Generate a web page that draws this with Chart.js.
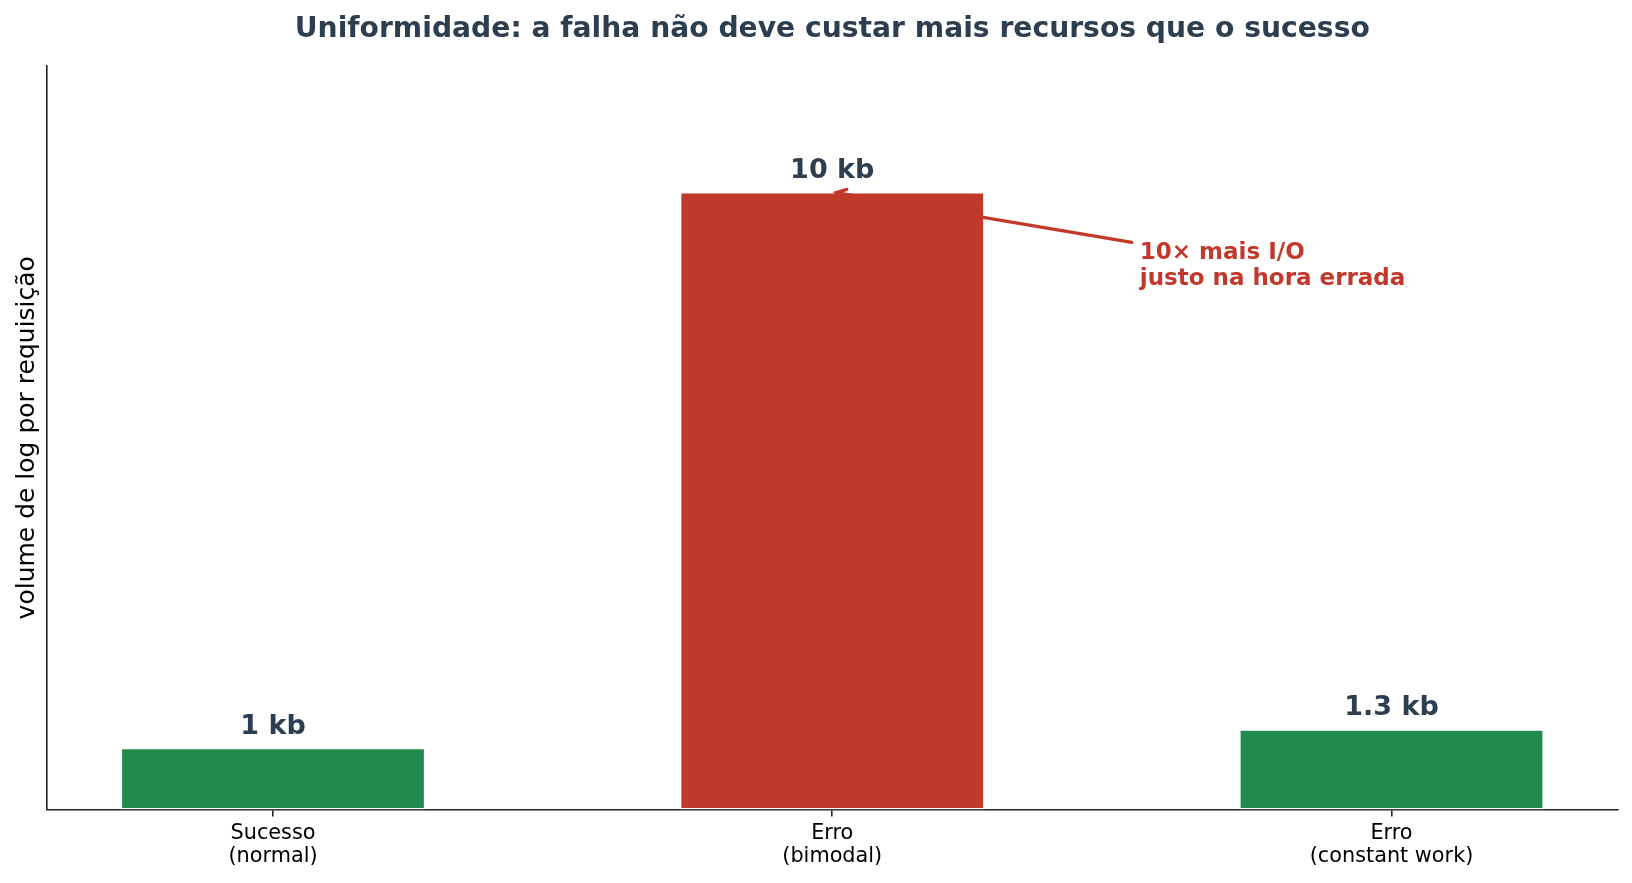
<!DOCTYPE html>
<html>
<head>
<meta charset="utf-8">
<script src="https://cdn.jsdelivr.net/npm/chart.js@4.4.1/dist/chart.umd.min.js"></script>
<style>
  html, body { margin: 0; padding: 0; background: #fff; }
</style>
</head>
<body>
<canvas id="logChart" width="1632" height="883"></canvas>
<script>
// dados
const categories = [['Sucesso', '(normal)'], ['Erro', '(bimodal)'], ['Erro', '(constant work)']];
const logVolume = [1, 10, 1.3];
const valueLabels = ['1 kb', '10 kb', '1.3 kb'];
const barColors = ['#218a4c', '#c0392b', '#218a4c'];
const yRange = [0, 12.04];
const xRange = [-0.405, 2.405];
const chartTitle = 'Uniformidade: a falha não deve custar mais recursos que o sucesso';
const noteLines = ['10× mais I/O', 'justo na hora errada'];
const notePoint = [1, 10];
const noteTextAt = [1.55, 8.8];

const FONT = "'DejaVu Sans', 'Liberation Sans', sans-serif";
const DARK = '#2c3e50';
const RED = '#c0392b';

// título centrado sobre a área do gráfico (como no matplotlib)
const axesTitle = {
	id: 'axesTitle',
	afterDraw(chart) {
		const ctx = chart.ctx;
		const area = chart.chartArea;
		ctx.save();
		ctx.font = 'bold 28.2px ' + FONT;
		ctx.fillStyle = DARK;
		ctx.textAlign = 'center';
		ctx.textBaseline = 'middle';
		ctx.fillText(chartTitle, (area.left + area.right) / 2, area.top - 36);
		ctx.restore();
	}
};

const barValueLabels = {
	id: 'barValueLabels',
	afterDatasetsDraw(chart) {
		const ctx = chart.ctx;
		const meta = chart.getDatasetMeta(0);
		ctx.save();
		ctx.font = 'bold 27px ' + FONT;
		ctx.fillStyle = DARK;
		ctx.textAlign = 'center';
		ctx.textBaseline = 'middle';
		meta.data.forEach(function(bar, i) {
			ctx.fillText(valueLabels[i], bar.x, bar.y - 21);
		});
		ctx.restore();
	}
};

const arrowNote = {
	id: 'arrowNote',
	afterDatasetsDraw(chart) {
		const ctx = chart.ctx;
		const xs = chart.scales.x, ys = chart.scales.y;
		const tx = xs.getPixelForValue(noteTextAt[0]);
		const ty = ys.getPixelForValue(noteTextAt[1]);
		const lineH = 26;
		ctx.save();
		ctx.font = 'bold 23px ' + FONT;
		const w = Math.max.apply(null, noteLines.map(function(l) { return ctx.measureText(l).width; }));
		const cx = tx + w / 2, cy = ty;
		let px = xs.getPixelForValue(notePoint[0]);
		let py = ys.getPixelForValue(notePoint[1]);
		const dx = px - cx, dy = py - cy;
		const len = Math.sqrt(dx * dx + dy * dy);
		// encolhe a ponta um pouco
		px -= dx / len * 4;
		py -= dy / len * 4;
		const startX = tx - 8;
		const t = (startX - cx) / dx;
		const startY = cy + dy * t;

		ctx.strokeStyle = RED;
		ctx.lineWidth = 3.2;
		ctx.lineCap = 'round';
		ctx.beginPath();
		ctx.moveTo(startX, startY);
		ctx.lineTo(px, py);
		ctx.stroke();

		const ang = Math.atan2(py - startY, px - startX);
		const hl = 10, hw = 5;
		ctx.beginPath();
		ctx.moveTo(px - hl * Math.cos(ang) + hw * Math.sin(ang), py - hl * Math.sin(ang) - hw * Math.cos(ang));
		ctx.lineTo(px, py);
		ctx.lineTo(px - hl * Math.cos(ang) - hw * Math.sin(ang), py - hl * Math.sin(ang) + hw * Math.cos(ang));
		ctx.stroke();

		ctx.fillStyle = RED;
		ctx.textAlign = 'left';
		ctx.textBaseline = 'middle';
		noteLines.forEach(function(l, i) {
			ctx.fillText(l, tx, ty + (i - (noteLines.length - 1) / 2) * lineH);
		});
		ctx.restore();
	}
};

new Chart(document.getElementById('logChart').getContext('2d'), {
	type: 'bar',
	data: {
		datasets: [{
			data: logVolume.map(function(v, i) { return { x: i, y: v }; }),
			backgroundColor: barColors,
			borderColor: '#ffffff',
			borderWidth: 1.5,
			borderSkipped: false,
			barPercentage: 0.545,
			categoryPercentage: 1
		}]
	},
	options: {
		responsive: false,
		animation: false,
		devicePixelRatio: 1,
		layout: { padding: { left: 0, right: 14, top: 66, bottom: 0 } },
		plugins: {
			legend: { display: false },
			tooltip: { enabled: false },
			title: { display: false }
		},
		scales: {
			x: {
				type: 'linear',
				min: xRange[0],
				max: xRange[1],
				offset: false,
				afterBuildTicks: function(scale) {
					scale.ticks = categories.map(function(_, i) { return { value: i }; });
				},
				afterFit: function(scale) { scale.height = 73.5; },
				grid: { display: true, offset: false, drawOnChartArea: false, drawTicks: true, tickLength: 7, color: '#222', lineWidth: 1.6 },
				border: { display: true, color: '#222', width: 1.6 },
				ticks: {
					padding: 6,
					color: '#000',
					font: { family: FONT, size: 20.8, lineHeight: 1.1 },
					callback: function(v) { return categories[v]; }
				}
			},
			y: {
				min: yRange[0],
				max: yRange[1],
				afterFit: function(scale) { scale.width = 46.5; },
				grid: { display: false },
				border: { display: true, color: '#222', width: 1.6 },
				ticks: { display: false },
				title: {
					display: true,
					text: 'volume de log por requisição',
					color: '#000',
					font: { family: FONT, size: 25 },
					padding: { top: 12, bottom: 0 }
				}
			}
		}
	},
	plugins: [barValueLabels, arrowNote, axesTitle]
});
</script>
</body>
</html>
